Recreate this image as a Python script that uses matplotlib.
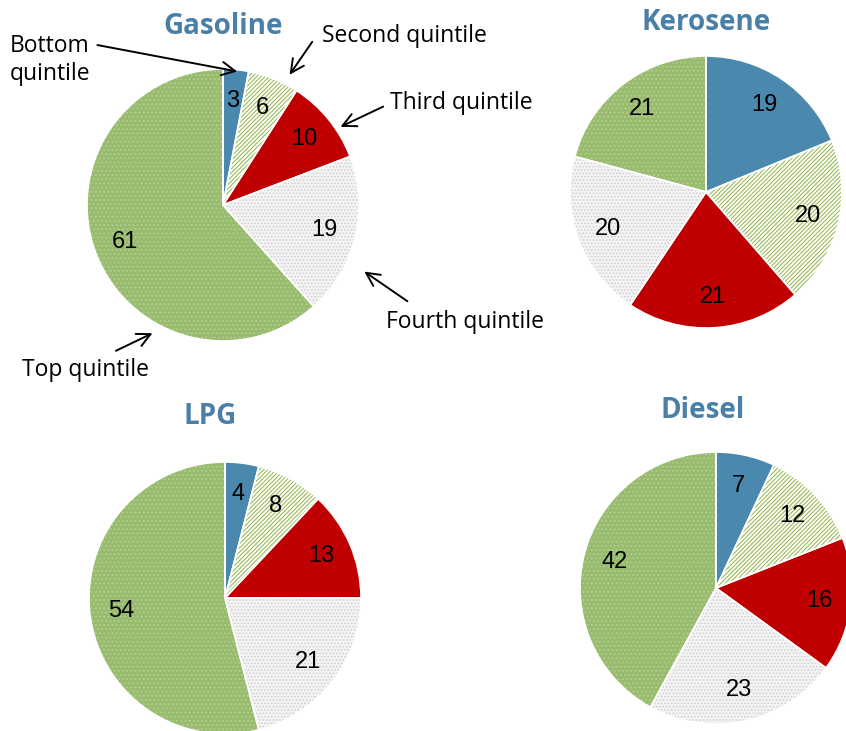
import matplotlib
matplotlib.use("Agg")
import matplotlib.pyplot as plt

plt.rcParams['font.family'] = ['Open Sans', 'DejaVu Sans']
plt.rcParams['hatch.linewidth'] = 0.8

quintiles = ["Bottom quintile", "Second quintile", "Third quintile", "Fourth quintile", "Top quintile"]
fuels = ["Gasoline", "Kerosene", "LPG", "Diesel"]
gasoline = [3, 6, 10, 19, 61]
kerosene = [19, 20, 21, 20, 21]
lpg = [4, 8, 13, 21, 54]
diesel = [7, 12, 16, 23, 42]
values = [gasoline, kerosene, lpg, diesel]

W, H = 846, 731
fig = plt.figure(figsize=(W / 100, H / 100), dpi=100)
ax = fig.add_axes([0, 0, 1, 1])
ax.set_xlim(0, W)
ax.set_ylim(0, H)
ax.set_aspect('equal')
ax.axis('off')

def py(y):
    return H - y

centers = [(223, 205), (706, 192), (225, 598), (716, 588)]
radius = 136
title_pos = [(223, 26), (706, 23), (210, 416), (703, 410)]

faces = ['#4a89ad', 'white', '#c00000', '#f4f4f4', '#98bb6e']
hatches = [None, '////////', None, '.....', '....']
hcols = ['#4a89ad', '#9bbb59', '#c00000', '#d0d0d0', '#b2cf92']

for vals, (cx, cy), name, (tx, ty) in zip(values, centers, fuels, title_pos):
    wedges, _ = ax.pie(vals, center=(cx, py(cy)), radius=radius, startangle=90,
                       counterclock=False, colors=faces,
                       wedgeprops=dict(linewidth=0))
    for w, h, hc in zip(wedges, hatches, hcols):
        if h:
            w.set_hatch(h)
            w.set_edgecolor(hc)
    wedges2, texts, autotexts = ax.pie(vals, center=(cx, py(cy)), radius=radius, startangle=90,
                                       counterclock=False, colors=['none'] * 5,
                                       autopct=lambda p: '', pctdistance=0.77,
                                       wedgeprops=dict(linewidth=1.2, edgecolor='white', fill=False))
    for t, v in zip(autotexts, vals):
        t.set_text(str(v))
        t.set_fontsize(17)
        t.set_color('black')
        t.set_family(['Liberation Sans', 'DejaVu Sans'])
    ax.text(tx, py(ty), name, ha='center', va='center', fontsize=20,
            fontweight='bold', color='#4a7fa8')

ax.set_xlim(0, W)
ax.set_ylim(0, H)

fs = 16.5
arrow = dict(arrowstyle='->', color='black', lw=1.4, mutation_scale=24)
ax.annotate("Bottom\nquintile", xy=(240, py(72)), xytext=(10, py(60)),
            ha='left', va='center', fontsize=fs, linespacing=1.2,
            arrowprops=dict(arrow, relpos=(1.05, 0.8)))
ax.annotate("Second quintile", xy=(288, py(77)), xytext=(322, py(36)),
            ha='left', va='center', fontsize=fs,
            arrowprops=dict(arrow, relpos=(-0.05, 0.35)))
ax.annotate("Third quintile", xy=(338, py(128)), xytext=(390, py(103)),
            ha='left', va='center', fontsize=fs,
            arrowprops=dict(arrow, relpos=(-0.03, 0.4)))
ax.annotate("Fourth quintile", xy=(362, py(270)), xytext=(386, py(322)),
            ha='left', va='center', fontsize=fs,
            arrowprops=dict(arrow, relpos=(0.15, 1.3)))
ax.annotate("Top quintile", xy=(155, py(332)), xytext=(22, py(370)),
            ha='left', va='center', fontsize=fs,
            arrowprops=dict(arrow, relpos=(0.72, 1.25)))

fig.savefig("out.png", dpi=100)
